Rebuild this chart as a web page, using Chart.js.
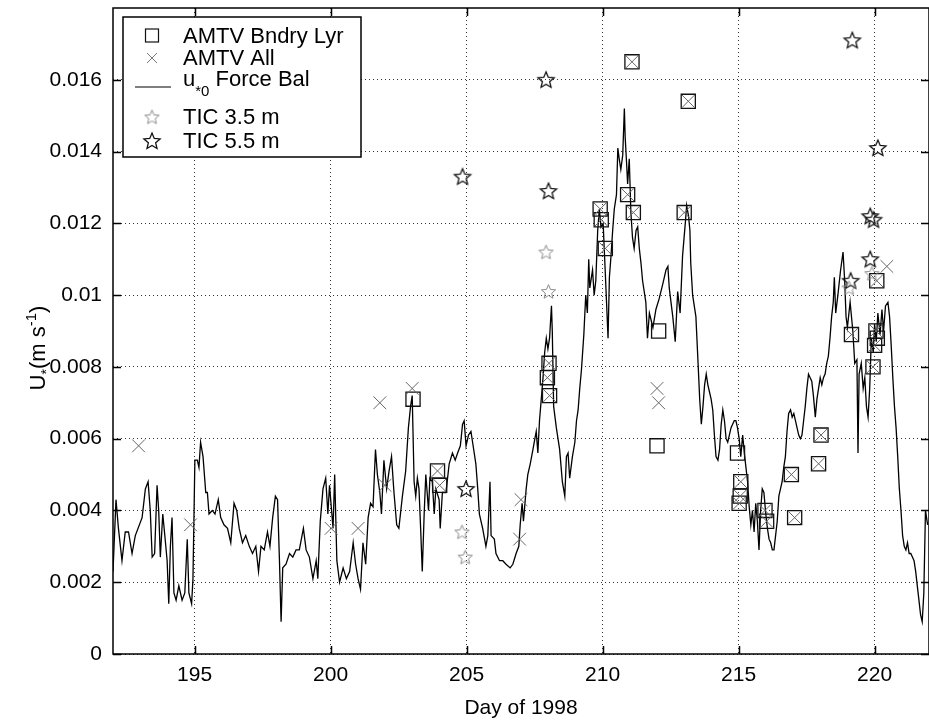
<!DOCTYPE html>
<html>
<head>
<meta charset="utf-8">
<script src="https://cdn.jsdelivr.net/npm/chart.js@4.4.0/dist/chart.umd.min.js"></script>
<style>
  html, body { margin: 0; padding: 0; background: #fff; }
  canvas { display: block; }
</style>
</head>
<body>
<canvas id="graficoUstar" width="929" height="726"></canvas>
<script>
// Ticks de los ejes
const diasTicks = [195, 200, 205, 210, 215, 220];
const uTicks = [0, 0.002, 0.004, 0.006, 0.008, 0.01, 0.012, 0.014, 0.016];

// u*0 por balance de fuerzas (serie continua)
const forceDay = [
  192.0, 192.11, 192.2, 192.33, 192.45, 192.57, 192.7, 192.82, 193.07, 193.19,
  193.29, 193.37, 193.44, 193.53, 193.62, 193.68, 193.74, 193.83, 193.93, 193.99,
  194.05, 194.11, 194.17, 194.24, 194.32, 194.42, 194.54, 194.64, 194.73, 194.79,
  194.89, 194.94, 195.01, 195.1, 195.16, 195.22, 195.31, 195.41, 195.47, 195.53,
  195.65, 195.75, 195.87, 195.96, 196.08, 196.21, 196.33, 196.45, 196.55, 196.64,
  196.76, 196.88, 197.01, 197.13, 197.25, 197.35, 197.44, 197.56, 197.68, 197.77,
  197.87, 197.97, 198.05, 198.12, 198.18, 198.24, 198.36, 198.49, 198.61, 198.73,
  198.85, 199.0, 199.1, 199.22, 199.35, 199.47, 199.53, 199.62, 199.72, 199.82,
  199.9, 199.96, 200.09, 200.15, 200.23, 200.33, 200.46, 200.58, 200.7, 200.83,
  200.92, 201.01, 201.1, 201.19, 201.29, 201.38, 201.47, 201.56, 201.65, 201.72,
  201.81, 201.87, 201.96, 202.06, 202.15, 202.24, 202.33, 202.43, 202.51, 202.64,
  202.76, 202.86, 202.94, 203.0, 203.07, 203.13, 203.19, 203.25, 203.31, 203.37,
  203.44, 203.5, 203.6, 203.65, 203.74, 203.81, 203.87, 203.99, 204.03, 204.11,
  204.24, 204.36, 204.48, 204.58, 204.67, 204.77, 204.85, 204.91, 204.98, 205.07,
  205.16, 205.22, 205.34, 205.41, 205.47, 205.59, 205.71, 205.78, 205.86, 205.9,
  206.02, 206.08, 206.21, 206.33, 206.45, 206.6, 206.7, 206.82, 206.92, 206.97,
  207.04, 207.09, 207.19, 207.25, 207.34, 207.44, 207.51, 207.56, 207.62, 207.68,
  207.81, 207.87, 207.93, 207.99, 208.05, 208.12, 208.15, 208.2, 208.3, 208.42,
  208.52, 208.61, 208.67, 208.73, 208.79, 208.89, 208.98, 209.04, 209.1, 209.16,
  209.22, 209.31, 209.38, 209.44, 209.49, 209.53, 209.63, 209.69, 209.75, 209.82,
  209.88, 209.94, 210.02, 210.1, 210.2, 210.25, 210.31, 210.37, 210.43, 210.51,
  210.56, 210.61, 210.67, 210.74, 210.8, 210.83, 210.88, 210.92, 210.98, 211.04,
  211.1, 211.16, 211.23, 211.29, 211.35, 211.41, 211.47, 211.59, 211.65, 211.72,
  211.85, 211.96, 212.08, 212.21, 212.33, 212.4, 212.45, 212.58, 212.67, 212.76,
  212.85, 212.94, 213.04, 213.09, 213.16, 213.21, 213.24, 213.31, 213.43, 213.51,
  213.57, 213.63, 213.69, 213.75, 213.81, 213.87, 213.93, 213.99, 214.05, 214.11,
  214.17, 214.24, 214.3, 214.36, 214.42, 214.48, 214.54, 214.6, 214.66, 214.72,
  214.78, 214.84, 214.9, 214.96, 215.02, 215.08, 215.15, 215.21, 215.27, 215.33,
  215.39, 215.45, 215.51, 215.57, 215.63, 215.69, 215.75, 215.81, 215.87, 215.93,
  216.0, 216.06, 216.12, 216.18, 216.24, 216.3, 216.36, 216.42, 216.48, 216.54,
  216.6, 216.66, 216.72, 216.78, 216.84, 216.91, 216.97, 217.03, 217.09, 217.15,
  217.21, 217.27, 217.33, 217.39, 217.45, 217.51, 217.57, 217.63, 217.69, 217.75,
  217.82, 217.88, 217.94, 218.0, 218.06, 218.12, 218.18, 218.24, 218.3, 218.36,
  218.42, 218.48, 218.52, 218.57, 218.65, 218.75, 218.84, 218.9, 218.95, 219.0,
  219.1, 219.2, 219.27, 219.35, 219.39, 219.43, 219.51, 219.58, 219.64, 219.7,
  219.76, 219.82, 219.88, 219.95, 220.0, 220.06, 220.12, 220.2, 220.27, 220.33,
  220.4, 220.49, 220.55, 220.61, 220.67, 220.73, 220.79, 220.85, 220.91, 220.97,
  221.03, 221.09, 221.15, 221.21, 221.27, 221.33, 221.39, 221.45, 221.51, 221.57,
  221.63, 221.69, 221.75, 221.81, 221.87, 221.95
];
const forceU = [
  0.0023, 0.0043, 0.0035, 0.0026, 0.0034, 0.0034, 0.0028, 0.0033, 0.0038, 0.0046,
  0.0048, 0.0040, 0.0027, 0.0028, 0.0047, 0.0040, 0.0027, 0.0039, 0.0031, 0.0026,
  0.0014, 0.0030, 0.0038, 0.0017, 0.0015, 0.0019, 0.0015, 0.0017, 0.0032, 0.0017,
  0.0014, 0.0021, 0.0054, 0.0054, 0.0052, 0.0059, 0.0055, 0.0045, 0.0045, 0.0039,
  0.0040, 0.0039, 0.0043, 0.0038, 0.0036, 0.0035, 0.0031, 0.0042, 0.0040, 0.0035,
  0.0031, 0.0033, 0.0030, 0.0028, 0.0030, 0.0023, 0.0030, 0.0029, 0.0034, 0.0030,
  0.0038, 0.0044, 0.0043, 0.0026, 0.0009, 0.0024, 0.0025, 0.0028, 0.0027, 0.0029,
  0.0029, 0.0035, 0.0029, 0.0027, 0.0021, 0.0026, 0.0021, 0.0037, 0.0046, 0.0049,
  0.0039, 0.0047, 0.0035, 0.0050, 0.0026, 0.0020, 0.0024, 0.0021, 0.0023, 0.0031,
  0.0025, 0.0021, 0.0018, 0.0031, 0.0025, 0.0038, 0.0042, 0.0041, 0.0057, 0.0050,
  0.0045, 0.0039, 0.0054, 0.0046, 0.0051, 0.0055, 0.0045, 0.0036, 0.0035, 0.0044,
  0.0051, 0.0063, 0.0069, 0.0072, 0.0048, 0.0044, 0.0049, 0.0046, 0.0035, 0.0023,
  0.0039, 0.0050, 0.0040, 0.0049, 0.0048, 0.0039, 0.0046, 0.0043, 0.0035, 0.0045,
  0.0045, 0.0053, 0.0056, 0.0054, 0.0056, 0.0058, 0.0064, 0.0065, 0.0058, 0.0061,
  0.0062, 0.0059, 0.0053, 0.0046, 0.0039, 0.0035, 0.0030, 0.0033, 0.0048, 0.0033,
  0.0032, 0.0028, 0.0026, 0.0026, 0.0025, 0.0024, 0.0025, 0.0028, 0.0030, 0.0036,
  0.0042, 0.0037, 0.0046, 0.0050, 0.0053, 0.0057, 0.0060, 0.0062, 0.0056, 0.0065,
  0.0077, 0.0084, 0.0088, 0.0085, 0.0088, 0.0097, 0.0090, 0.0069, 0.0063, 0.0057,
  0.0048, 0.0044, 0.0055, 0.0056, 0.0049, 0.0055, 0.0059, 0.0065, 0.0068, 0.0074,
  0.0079, 0.0089, 0.0100, 0.0095, 0.0110, 0.0102, 0.0107, 0.0100, 0.0104, 0.0118,
  0.0124, 0.0119, 0.0120, 0.0106, 0.0088, 0.0105, 0.0111, 0.0118, 0.0124, 0.0128,
  0.0141, 0.0138, 0.0135, 0.0139, 0.0152, 0.0144, 0.0137, 0.0131, 0.0138, 0.0123,
  0.0116, 0.0113, 0.0118, 0.0119, 0.0113, 0.0109, 0.0104, 0.0098, 0.0088, 0.0095,
  0.0091, 0.0096, 0.0099, 0.0103, 0.0107, 0.0108, 0.0102, 0.0094, 0.0087, 0.0101,
  0.0095, 0.0111, 0.0120, 0.0125, 0.0122, 0.0118, 0.0109, 0.0100, 0.0094, 0.0081,
  0.0071, 0.0064, 0.0069, 0.0075, 0.0078, 0.0075, 0.0073, 0.0071, 0.0068, 0.0061,
  0.0055, 0.0054, 0.0057, 0.0064, 0.0068, 0.0065, 0.0060, 0.0059, 0.0061, 0.0063,
  0.0064, 0.0065, 0.0065, 0.0063, 0.0060, 0.0055, 0.0061, 0.0056, 0.0052, 0.0048,
  0.0041, 0.0036, 0.0040, 0.0034, 0.0042, 0.0037, 0.0029, 0.0040, 0.0046, 0.0045,
  0.0039, 0.0035, 0.0032, 0.0031, 0.0029, 0.0029, 0.0033, 0.0037, 0.0044, 0.0046,
  0.0048, 0.0052, 0.0055, 0.0062, 0.0067, 0.0068, 0.0066, 0.0067, 0.0065, 0.0063,
  0.0061, 0.0060, 0.0061, 0.0065, 0.0069, 0.0074, 0.0078, 0.0077, 0.0076, 0.0072,
  0.0066, 0.0071, 0.0074, 0.0077, 0.0075, 0.0077, 0.0078, 0.0081, 0.0083, 0.0088,
  0.0094, 0.0098, 0.0105, 0.0095, 0.0100, 0.0107, 0.0112, 0.0104, 0.0094, 0.0091,
  0.0098, 0.0090, 0.0081, 0.0082, 0.0056, 0.0078, 0.0081, 0.0074, 0.0077, 0.0069,
  0.0066, 0.0074, 0.0088, 0.0084, 0.0092, 0.0087, 0.0095, 0.0089, 0.0096, 0.0090,
  0.0097, 0.0098, 0.0094, 0.0086, 0.0077, 0.0069, 0.0063, 0.0055, 0.0046, 0.0040,
  0.0033, 0.0030, 0.0029, 0.0031, 0.0028, 0.0028, 0.0027, 0.0026, 0.0023, 0.0019,
  0.0015, 0.0011, 0.0009, 0.0017, 0.0040, 0.0036
];

// AMTV capa limite (cuadrados)
const bndryDay = [
  203.03, 203.93, 204.01, 207.97, 208.03, 208.05, 209.91, 209.95, 210.1, 210.92,
  211.08, 211.13, 212.0, 212.06, 213.0, 213.15, 214.96, 215.08, 215.06, 215.02,
  215.97, 216.03, 216.94, 217.06, 217.94, 218.03, 219.15, 219.94, 220.0, 220.05,
  220.1, 220.08
];
const bndryU = [
  0.0071, 0.0051, 0.0047, 0.0077, 0.0081, 0.0072, 0.0124, 0.0121, 0.0113, 0.0128,
  0.0165, 0.0123, 0.0058, 0.0090, 0.0123, 0.0154, 0.0056, 0.0048, 0.0044, 0.0042,
  0.0040, 0.0037, 0.0050, 0.0038, 0.0053, 0.0061, 0.0089, 0.0080, 0.0086, 0.0090,
  0.0088, 0.0104
];

// AMTV todos (cruces)
const allDay = [
  192.94, 194.85, 200.02, 201.01, 201.81, 202.0, 203.0, 203.93, 204.01, 206.95,
  207.0, 207.97, 208.03, 208.05, 209.91, 209.95, 210.1, 210.92, 211.08, 211.13,
  212.0, 212.06, 213.0, 213.15, 215.08, 215.06, 215.02, 215.97, 216.03, 216.94,
  217.06, 217.94, 218.03, 219.15, 219.94, 220.0, 220.05, 220.08, 220.45
];
const allU = [
  0.0058, 0.0036, 0.0035, 0.0035, 0.0070, 0.0047, 0.0074, 0.0051, 0.0047, 0.0032,
  0.0043, 0.0077, 0.0081, 0.0072, 0.0124, 0.0121, 0.0113, 0.0128, 0.0165, 0.0123,
  0.0074, 0.0070, 0.0123, 0.0154, 0.0048, 0.0044, 0.0042, 0.0040, 0.0037, 0.0050,
  0.0038, 0.0053, 0.0061, 0.0089, 0.0080, 0.0086, 0.0090, 0.0104, 0.0108
];

// TIC a 3.5 m y 5.5 m (estrellas)
const tic35Day = [204.83, 204.95, 207.92, 208.01, 219.06, 219.9];
const tic35U = [0.0034, 0.0027, 0.0112, 0.0101, 0.0102, 0.0106];
const tic55Day = [204.85, 204.98, 207.92, 208.01, 219.18, 220.12, 219.84, 219.96, 219.84, 219.12];
const tic55U = [0.0133, 0.0046, 0.0160, 0.0129, 0.0171, 0.0141, 0.0122, 0.0121, 0.0110, 0.0104];

const FUENTE = '"Liberation Sans", Arial, sans-serif';

function puntos(dias, valores) {
  return dias.map((d, i) => ({ x: d, y: valores[i] }));
}

// Estrella de cinco puntas como imagen para pointStyle
function crearEstrella(radio, color, grosor) {
  const s = Math.ceil(radio * 2 + grosor * 2 + 2);
  const c = document.createElement('canvas');
  c.width = s;
  c.height = s;
  const g = c.getContext('2d');
  g.strokeStyle = color;
  g.lineWidth = grosor;
  g.lineJoin = 'miter';
  g.beginPath();
  for (let i = 0; i < 10; i++) {
    const r = i % 2 ? radio * 0.45 : radio;
    const ang = -Math.PI / 2 + i * Math.PI / 5;
    const px = s / 2 + r * Math.cos(ang);
    const py = s / 2 + 0.6 + r * Math.sin(ang);
    if (i === 0) g.moveTo(px, py); else g.lineTo(px, py);
  }
  g.closePath();
  g.stroke();
  return c;
}

const estrella35 = crearEstrella(7.5, '#8a8a8a', 1);
const estrella55 = crearEstrella(8.5, '#111', 1.3);

// Dibuja un texto con sub/superindices, piezas: {t, size, dy}
function textoCompuesto(ctx, piezas, x, y, centrado) {
  let total = 0;
  piezas.forEach(p => {
    ctx.font = p.size + 'px ' + FUENTE;
    p.w = ctx.measureText(p.t).width;
    total += p.w;
  });
  let cx = centrado ? x - total / 2 : x;
  ctx.textAlign = 'left';
  ctx.textBaseline = 'alphabetic';
  piezas.forEach(p => {
    ctx.font = p.size + 'px ' + FUENTE;
    ctx.fillText(p.t, cx, y + (p.dy || 0));
    cx += p.w;
  });
}

// Marco del eje con marcas hacia adentro
const marcoEjes = {
  id: 'marcoEjes',
  afterDatasetsDraw(chart) {
    const { ctx, chartArea: a, scales: { x, y } } = chart;
    ctx.save();
    ctx.strokeStyle = '#000';
    ctx.lineWidth = 1.5;
    ctx.strokeRect(a.left, a.top, a.right - a.left, a.bottom - a.top);
    ctx.beginPath();
    diasTicks.forEach(v => {
      const px = Math.round(x.getPixelForValue(v)) + 0.5;
      ctx.moveTo(px, a.bottom); ctx.lineTo(px, a.bottom - 8);
      ctx.moveTo(px, a.top); ctx.lineTo(px, a.top + 8);
    });
    uTicks.forEach(v => {
      const py = Math.round(y.getPixelForValue(v)) + 0.5;
      ctx.moveTo(a.left, py); ctx.lineTo(a.left + 8, py);
      ctx.moveTo(a.right, py); ctx.lineTo(a.right - 8, py);
    });
    ctx.stroke();
    ctx.restore();
  }
};

// Titulo del eje Y con subindice y superindice
const tituloY = {
  id: 'tituloY',
  afterDraw(chart) {
    const { ctx, chartArea: a } = chart;
    ctx.save();
    ctx.fillStyle = '#000';
    ctx.translate(45, (a.top + a.bottom) / 2 + 17);
    ctx.rotate(-Math.PI / 2);
    textoCompuesto(ctx, [
      { t: 'U', size: 22 },
      { t: '*', size: 14, dy: 6 },
      { t: '(m s', size: 22 },
      { t: '-1', size: 15, dy: -9 },
      { t: ')', size: 22 }
    ], 0, 0, true);
    ctx.restore();
  }
};

// Leyenda dentro del area de trazado
const leyenda = {
  id: 'leyenda',
  afterDraw(chart) {
    const ctx = chart.ctx;
    const x0 = 123, y0 = 17, x1 = 361, y1 = 157;
    const mx = 152, tx = 183;
    ctx.save();
    ctx.fillStyle = '#fff';
    ctx.fillRect(x0, y0, x1 - x0, y1 - y0);
    ctx.strokeStyle = '#000';
    ctx.lineWidth = 1.5;
    ctx.strokeRect(x0, y0, x1 - x0, y1 - y0);

    // cuadrado
    ctx.lineWidth = 1.2;
    ctx.strokeStyle = '#111';
    ctx.strokeRect(mx - 6.5, 29, 13, 13);
    // cruz
    ctx.strokeStyle = '#777';
    ctx.lineWidth = 1;
    ctx.beginPath();
    ctx.moveTo(mx - 5, 53); ctx.lineTo(mx + 5, 63);
    ctx.moveTo(mx + 5, 53); ctx.lineTo(mx - 5, 63);
    ctx.stroke();
    // linea
    ctx.strokeStyle = '#000';
    ctx.lineWidth = 1.2;
    ctx.beginPath();
    ctx.moveTo(135, 87); ctx.lineTo(171, 87);
    ctx.stroke();
    // estrellas
    ctx.drawImage(estrella35, mx - estrella35.width / 2, 117 - estrella35.height / 2);
    ctx.drawImage(estrella55, mx - estrella55.width / 2, 141 - estrella55.height / 2);

    ctx.fillStyle = '#000';
    textoCompuesto(ctx, [{ t: 'AMTV Bndry Lyr', size: 22 }], tx, 43, false);
    textoCompuesto(ctx, [{ t: 'AMTV All', size: 22 }], tx, 65, false);
    textoCompuesto(ctx, [
      { t: 'u', size: 22 },
      { t: '*0', size: 15, dy: 10 },
      { t: ' Force Bal', size: 22 }
    ], tx, 86, false);
    textoCompuesto(ctx, [{ t: 'TIC 3.5 m', size: 22 }], tx, 124, false);
    textoCompuesto(ctx, [{ t: 'TIC 5.5 m', size: 22 }], tx, 148, false);
    ctx.restore();
  }
};

const ctx = document.getElementById('graficoUstar');

new Chart(ctx, {
  type: 'scatter',
  data: {
    datasets: [
      {
        label: 'u*0 Force Bal',
        data: puntos(forceDay, forceU),
        showLine: true,
        borderColor: '#000',
        borderWidth: 1.3,
        pointRadius: 0,
        tension: 0,
        order: 5
      },
      {
        label: 'AMTV Bndry Lyr',
        data: puntos(bndryDay, bndryU),
        pointStyle: 'rect',
        pointRadius: 10,
        pointBorderWidth: 1.3,
        pointBorderColor: '#111',
        pointBackgroundColor: 'rgba(0,0,0,0)',
        order: 3
      },
      {
        label: 'AMTV All',
        data: puntos(allDay, allU),
        pointStyle: 'crossRot',
        pointRadius: 9,
        pointBorderWidth: 1,
        pointBorderColor: '#666',
        order: 2
      },
      {
        label: 'TIC 3.5 m',
        data: puntos(tic35Day, tic35U),
        pointStyle: estrella35,
        order: 1
      },
      {
        label: 'TIC 5.5 m',
        data: puntos(tic55Day, tic55U),
        pointStyle: estrella55,
        order: 1
      }
    ]
  },
  options: {
    responsive: false,
    animation: false,
    events: [],
    layout: { autoPadding: false, padding: { top: 8, right: 0, left: 0, bottom: 0 } },
    plugins: {
      legend: { display: false },
      tooltip: { enabled: false }
    },
    scales: {
      x: {
        type: 'linear',
        min: 192,
        max: 222,
        afterBuildTicks: s => { s.ticks = diasTicks.map(v => ({ value: v })); },
        afterFit: s => { s.height = 72; s.paddingLeft = 0; s.paddingRight = 0; },
        ticks: {
          padding: 9,
          color: '#000',
          font: { family: FUENTE, size: 21 },
          maxRotation: 0,
          callback: v => String(v)
        },
        grid: { color: '#333', lineWidth: 1, drawTicks: false },
        border: { display: false, dash: [1, 3] },
        title: {
          display: true,
          text: 'Day of 1998',
          color: '#000',
          font: { family: FUENTE, size: 21 },
          padding: { top: 0, bottom: 5 }
        }
      },
      y: {
        type: 'linear',
        min: 0,
        max: 0.018,
        afterBuildTicks: s => { s.ticks = uTicks.map(v => ({ value: v })); },
        afterFit: s => { s.width = 113; s.paddingTop = 0; s.paddingBottom = 0; },
        ticks: {
          padding: 11,
          color: '#000',
          font: { family: FUENTE, size: 21 },
          callback: v => String(+v.toFixed(3))
        },
        grid: { color: '#333', lineWidth: 1, drawTicks: false },
        border: { display: false, dash: [1, 3] }
      }
    }
  },
  plugins: [marcoEjes, tituloY, leyenda]
});
</script>
</body>
</html>
